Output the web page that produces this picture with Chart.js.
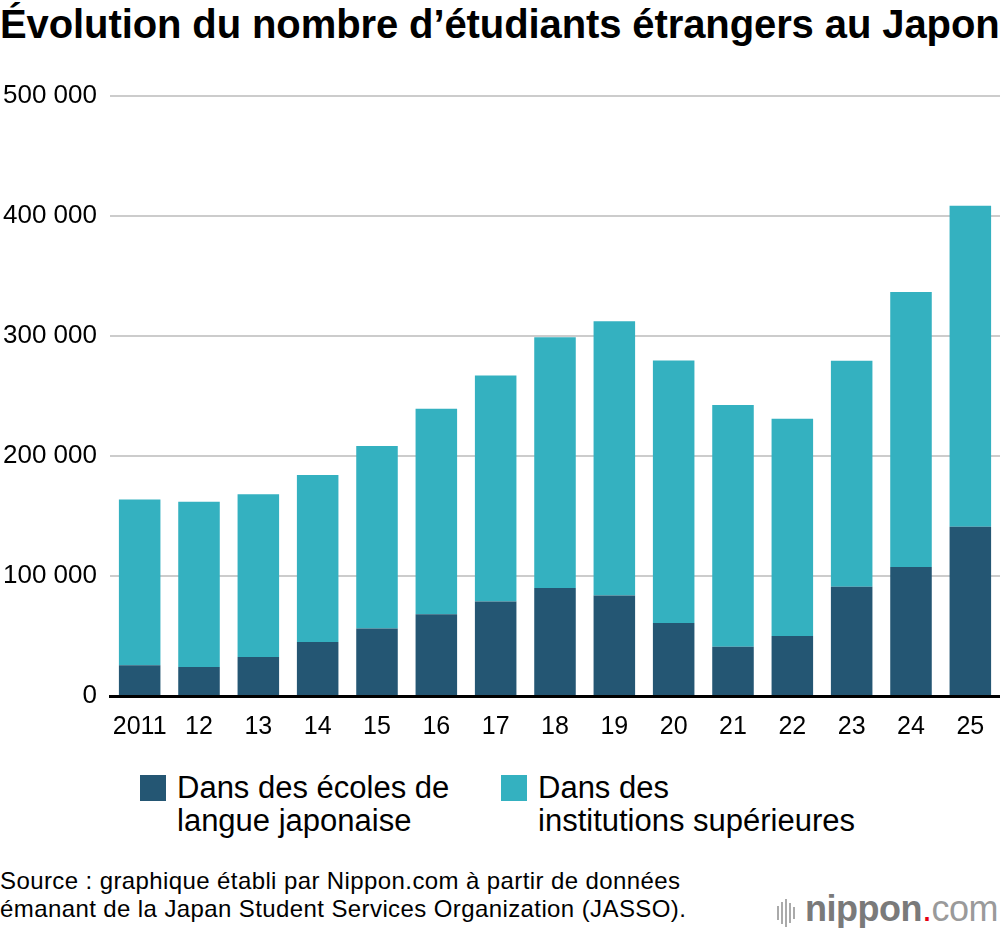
<!DOCTYPE html>
<html lang="fr">
<head>
<meta charset="utf-8">
<script src="https://cdn.jsdelivr.net/npm/chart.js@4"></script>
<style>
  html, body { margin: 0; padding: 0; background: #fff; }
  body { width: 1000px; height: 928px; position: relative; overflow: hidden;
         font-family: "Liberation Sans", Arial, sans-serif; color: #000; }
  #titre { position: absolute; left: 0; top: 4px; font-size: 40px; line-height: 40px; font-weight: bold;
           white-space: nowrap; letter-spacing: -0.1px; }
  #zone { position: absolute; left: 0; top: 0; width: 1000px; height: 760px; }
  .leg { position: absolute; top: 771px; font-size: 31px; line-height: 33px; }
  .leg i { position: absolute; left: 0; top: 4px; width: 26px; height: 26px; }
  .leg span { display: block; padding-left: 37px; }
  #source { position: absolute; left: 0; top: 867px; font-size: 24px; line-height: 28px; letter-spacing: 0.4px; }
  #logo { position: absolute; right: 2px; top: 888px; font-size: 36px; color: #7a7a7a;
          white-space: nowrap; letter-spacing: -0.5px; }
  #logo b { font-weight: bold; }
  #logo em { font-style: normal; color: #e60012; }
  #logo small { font-size: 36px; font-weight: normal; color: #9a9a9a; }
  #logo .onde { display: inline-block; vertical-align: -2px; margin-right: 8px; }
  #logo .onde u { display: inline-block; width: 2px; margin-right: 2px; background: #aaa; vertical-align: middle; }
</style>
</head>
<body>
<div id="titre">Évolution du nombre d’étudiants étrangers au Japon</div>
<div id="zone"><canvas id="graphique"></canvas></div>

<div class="leg" style="left:140px"><i style="background:#245673"></i>
  <span>Dans des écoles de<br>langue japonaise</span></div>
<div class="leg" style="left:501px"><i style="background:#34b1c0"></i>
  <span>Dans des<br>institutions supérieures</span></div>

<div id="source">Source : graphique établi par Nippon.com à partir de données<br>émanant de la Japan Student Services Organization (JASSO).</div>
<div id="logo"><span class="onde"><u style="height:14px"></u><u style="height:22px"></u><u style="height:28px"></u><u style="height:20px"></u><u style="height:12px"></u></span><b>nippon</b><em>.</em><small>com</small></div>

<script>
// années (axe horizontal)
const annees = ['2011', '12', '13', '14', '15', '16', '17', '18', '19', '20', '21', '22', '23', '24', '25'];

// étudiants dans les écoles de langue japonaise
const ecolesLangue = [25600, 24100, 32600, 45000, 56300, 68200, 78700, 90100, 83800, 60800, 41000, 50000, 91000, 107500, 141000];

// étudiants dans les institutions supérieures
const institutionsSup = [138100, 137800, 135500, 139200, 152100, 171100, 188400, 208900, 228400, 218800, 201400, 181100, 188300, 229200, 267500];

// graduations de l'axe vertical
const graduations = [0, 100000, 200000, 300000, 400000, 500000];

function espaceMilliers(v) {
  return String(v).replace(/\B(?=(\d{3})+(?!\d))/g, ' ');
}

const couleurs = ['#245673', '#34b1c0'];

new Chart(document.getElementById('graphique'), {
  type: 'bar',
  data: {
    labels: annees,
    datasets: [
      { label: 'Dans des écoles de langue japonaise', data: ecolesLangue, backgroundColor: couleurs[0] },
      { label: 'Dans des institutions supérieures', data: institutionsSup, backgroundColor: couleurs[1] }
    ]
  },
  options: {
    responsive: true,
    maintainAspectRatio: false,
    animation: false,
    layout: { padding: { top: 96, right: 0, left: 0, bottom: 0 } },
    plugins: { legend: { display: false }, tooltip: { enabled: false } },
    datasets: { bar: { barPercentage: 0.7, categoryPercentage: 1 } },
    scales: {
      x: {
        stacked: true,
        grid: { display: false },
        border: { display: true, color: '#000', width: 3 },
        ticks: { color: '#000', padding: 8, maxRotation: 0, font: { family: 'Liberation Sans', size: 25 } },
        afterFit: function(s) { s.height = 64; }
      },
      y: {
        stacked: true,
        min: 0,
        max: 500000,
        afterBuildTicks: function(s) { s.ticks = graduations.map(v => ({ value: v })); },
        grid: { color: '#cccccc', lineWidth: 2, drawTicks: false },
        border: { display: false },
        ticks: {
          color: '#000', padding: 13,
          font: { family: 'Liberation Sans', size: 26 },
          callback: v => espaceMilliers(v)
        },
        afterFit: function(s) { s.width = 110; }
      }
    }
  }
});
</script>
</body>
</html>
